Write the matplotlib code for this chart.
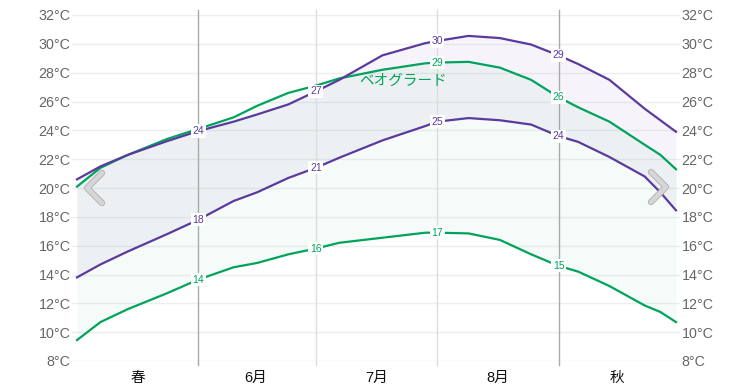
import matplotlib
matplotlib.use("Agg")
import matplotlib.pyplot as plt
from matplotlib.lines import Line2D
import matplotlib.patheffects as pe
import numpy as np

plt.rcParams['font.family'] = ['Liberation Sans', 'Noto Sans CJK JP', 'DejaVu Sans']

# days since May 1
days = [0, 6, 13, 23, 31, 40, 46, 54, 61, 67, 78, 89, 92, 100, 108, 116, 123, 128, 136, 145, 149, 153]

purple_high = [20.6, 21.5, 22.3, 23.25, 23.95, 24.6, 25.1, 25.8, 26.7, 27.5, 29.2, 30.05, 30.2, 30.55,
               30.4, 29.95, 29.2, 28.6, 27.5, 25.5, 24.7, 23.9]
purple_low = [13.8, 14.7, 15.6, 16.8, 17.8, 19.1, 19.7, 20.7, 21.4, 22.1, 23.3, 24.3, 24.6, 24.85,
              24.7, 24.4, 23.6, 23.2, 22.15, 20.8, 19.7, 18.45]
green_high = [20.1, 21.4, 22.3, 23.4, 24.1, 24.9, 25.7, 26.6, 27.1, 27.6, 28.2, 28.65, 28.7, 28.75,
              28.35, 27.5, 26.3, 25.6, 24.6, 23.0, 22.3, 21.3]
green_low = [9.45, 10.7, 11.6, 12.7, 13.65, 14.5, 14.8, 15.4, 15.8, 16.2, 16.55, 16.9, 16.9, 16.85,
             16.4, 15.4, 14.6, 14.2, 13.2, 11.85, 11.4, 10.7]

label_days = [31, 61, 92, 123]
month_bounds = [31, 61, 92, 123]
season_bounds = [31, 123]
month_centers = [15.5, 45.5, 76.5, 107.5, 138]
month_names = ['春', '6月', '7月', '8月', '秋']
yticks = list(range(8, 33, 2))
city = 'ベオグラード'

PURPLE = '#5b3a9e'
GREEN = '#00a35c'

W, H = 753, 387
fig = plt.figure(figsize=(W / 100, H / 100), dpi=100)
ax = fig.add_axes([72 / W, (H - 361) / H, (680 - 72) / W, (361 - 15) / H])

px_per_day = 599 / 153
ax.set_xlim(-5 / px_per_day, 153 + 4 / px_per_day)
ax.set_ylim(8, 32)

for s in ax.spines.values():
    s.set_visible(False)

ax.set_yticks(yticks)
ax.set_yticklabels([f'{t}°C' for t in yticks], color='#666666', fontsize=10.3)
ax.tick_params(axis='y', length=0, pad=1, labelleft=True, labelright=True)
ax.grid(axis='y', color='#eeeeee', linewidth=1)
ax.set_axisbelow(True)

ax.set_xticks(month_centers)
ax.set_xticklabels(month_names, fontsize=10.5, color='#111111')
ax.tick_params(axis='x', length=0, pad=7)

# fills
ax.fill_between(days, purple_low, purple_high, color=PURPLE, alpha=0.05, linewidth=0, zorder=1)
ax.fill_between(days, green_low, green_high, color=GREEN, alpha=0.04, linewidth=0, zorder=1)

# month separators
for d in month_bounds:
    c = '#aaaaaa' if d in season_bounds else '#dddddd'
    ax.plot([d, d], [7.7, 32.35], color=c, linewidth=1, clip_on=False, zorder=2)

# lines
ax.plot(days, green_high, color=GREEN, linewidth=1.6, zorder=3)
ax.plot(days, green_low, color=GREEN, linewidth=1.6, zorder=3)
ax.plot(days, purple_high, color=PURPLE, linewidth=1.6, zorder=4)
ax.plot(days, purple_low, color=PURPLE, linewidth=1.6, zorder=4)


def put_labels(vals, color, which, z):
    for d in which:
        v = vals[days.index(d)]
        ax.text(d, v, str(int(np.floor(v + 0.5))), color=color, fontsize=7.5,
                ha='center', va='center', zorder=z,
                bbox=dict(boxstyle='square,pad=0.15', fc='white', ec='none'))


put_labels(green_high, GREEN, [92, 123], 5)
put_labels(green_low, GREEN, label_days, 5)
put_labels(purple_high, PURPLE, label_days, 6)
put_labels(purple_low, PURPLE, label_days, 6)

ax.text(83.3, 27.45, city, color=GREEN, fontsize=10.5, ha='center', va='center',
        zorder=6, family=['Noto Sans CJK JP', 'DejaVu Sans'])

# navigation chevrons
def chevron(xs, ys):
    ln = Line2D([x / W for x in xs], [1 - y / H for y in ys], transform=fig.transFigure,
                color='#d6d6d6', linewidth=3.2, solid_capstyle='round', solid_joinstyle='round',
                path_effects=[pe.Stroke(linewidth=4.6, foreground='#b5b5b5'), pe.Normal()])
    fig.add_artist(ln)


chevron([102, 87, 102], [173, 188, 203])
chevron([651, 666, 651], [172, 187, 202])

fig.savefig('out.png', dpi=100)
